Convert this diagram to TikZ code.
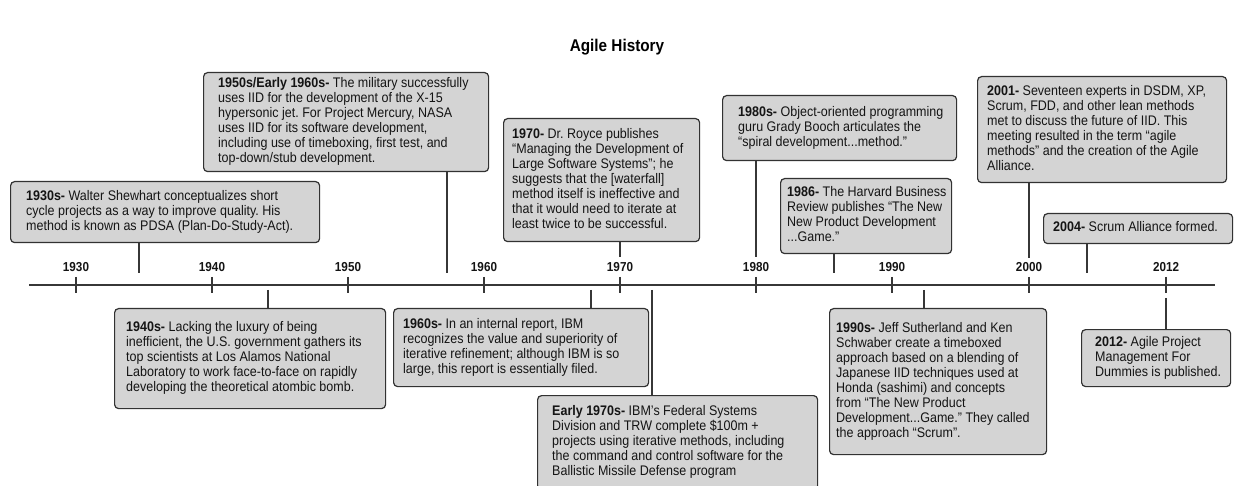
\documentclass[tikz,border=0pt]{standalone}
\usepackage{fontspec}
\setmainfont[FakeStretch=0.9]{Liberation Sans}
\frenchspacing
\definecolor{boxfill}{RGB}{212,212,212}
\definecolor{boxline}{RGB}{50,50,50}
\definecolor{axiscol}{RGB}{55,55,55}
\definecolor{inkcol}{RGB}{20,20,20}
\newcommand\eventbox[7]{%
  \node[evbox, minimum width={#4-#2}, minimum height={#5-#3}] (#1) at (#2,#3) {};
  \node[evtext] (#1t) at ([xshift=#6pt]#1.west) {\begin{tabular}{@{}l@{}}#7\end{tabular}};
}
\begin{document}
\begin{tikzpicture}[x=1pt,y=-1pt,
  evbox/.style={draw=boxline, fill=boxfill, line width=1.2pt, rounded corners=4pt, anchor=north west, inner sep=0pt},
  evtext/.style={anchor=west, inner sep=0pt, text=inkcol, font=\fontsize{13.9}{15}\selectfont},
  conn/.style={draw=axiscol, line width=1.4pt},
  yearlbl/.style={font=\bfseries\fontsize{13}{15}\selectfont, text=inkcol, inner sep=0pt},
  titlestyle/.style={font=\bfseries\fontsize{17}{20}\selectfont, text=black, inner sep=0pt}]
\useasboundingbox (0,0) rectangle (1234,486);
\clip (0,0) rectangle (1234,486);

\node[titlestyle] (ttl) at (617,47) {Agile History};

% axis
\coordinate (axL) at (29,285);
\coordinate (axR) at (1215,285);
\draw[conn] (axL) -- (axR);
\foreach \x/\yr in {76/1930,212/1940,348/1950,484/1960,620/1970,756/1980,892/1990,1029/2000,1166/2012}{
  \node[yearlbl] (y\yr) at (\x,267) {\yr};
  \draw[conn] (\x,277) -- (\x,293);
}

% boxes above
\eventbox{b1930}{10}{181}{319}{242}{16}{\textbf{1930s-} Walter Shewhart conceptualizes short\\cycle projects as a way to improve quality. His\\method is known as PDSA (Plan-Do-Study-Act).}
\eventbox{b1950}{203}{72}{488}{171}{15}{\textbf{1950s/Early 1960s-} The military successfully\\uses IID for the development of the X-15\\hypersonic jet. For Project Mercury, NASA\\uses IID for its software development,\\including use of timeboxing, first test, and\\top-down/stub development.}
\eventbox{b1970}{503}{118}{699}{241}{9}{\textbf{1970-} Dr. Royce publishes\\“Managing the Development of\\Large Software Systems”; he\\suggests that the [waterfall]\\method itself is ineffective and\\that it would need to iterate at\\least twice to be successful.}
\eventbox{b1980}{722}{95}{956}{160}{16}{\textbf{1980s-} Object-oriented programming\\guru Grady Booch articulates the\\“spiral development...method.”}
\eventbox{b1986}{780}{178}{951}{253}{7}{\textbf{1986-} The Harvard Business\\Review publishes “The New\\New Product Development\\...Game.”}
\eventbox{b2001}{977}{76}{1226}{182}{10}{\textbf{2001-} Seventeen experts in DSDM, XP,\\Scrum, FDD, and other lean methods\\met to discuss the future of IID. This\\meeting resulted in the term “agile\\methods” and the creation of the Agile\\Alliance.}
\eventbox{b2004}{1043}{213}{1232}{243}{10}{\textbf{2004-} Scrum Alliance formed.}

% boxes below
\eventbox{b1940}{114}{308}{385}{408}{12}{\textbf{1940s-} Lacking the luxury of being\\inefficient, the U.S. government gathers its\\top scientists at Los Alamos National\\Laboratory to work face-to-face on rapidly\\developing the theoretical atombic bomb.}
\eventbox{b1960}{393}{308}{648}{386}{10}{\textbf{1960s-} In an internal report, IBM\\recognizes the value and superiority of\\iterative refinement; although IBM is so\\large, this report is essentially filed.}
\eventbox{b1970e}{537}{395}{817}{489}{15}{\textbf{Early 1970s-} IBM’s Federal Systems\\Division and TRW complete \$100m +\\projects using iterative methods, including\\the command and control software for the\\Ballistic Missile Defense program}
\eventbox{b1990}{829}{308}{1046}{454}{7}{\textbf{1990s-} Jeff Sutherland and Ken\\Schwaber create a timeboxed\\approach based on a blending of\\Japanese IID techniques used at\\Honda (sashimi) and concepts\\from “The New Product\\Development...Game.” They called\\the approach “Scrum”.}
\eventbox{b2012}{1081}{329}{1230}{386}{14}{\textbf{2012-} Agile Project\\Management For\\Dummies is published.}

% connectors above the axis
\coordinate (c1930) at (139,273);
\coordinate (c1950) at (447,273);
\coordinate (c1970) at (620,257);
\coordinate (c1980) at (756,257);
\coordinate (c1986) at (834,273);
\coordinate (c2001) at (1029,258);
\coordinate (c2004) at (1087,273);
\draw[conn] (b1930.south -| c1930) -- (c1930);
\draw[conn] (b1950.south -| c1950) -- (c1950);
\draw[conn] (b1970.south -| c1970) -- (c1970);
\draw[conn] (b1980.south -| c1980) -- (c1980);
\draw[conn] (b1986.south -| c1986) -- (c1986);
\draw[conn] (b2001.south -| c2001) -- (c2001);
\draw[conn] (b2004.south -| c2004) -- (c2004);

% connectors below the axis
\coordinate (c1940) at (268,290);
\coordinate (c1960) at (591,290);
\coordinate (c1970e) at (652,290);
\coordinate (c1990) at (924,290);
\coordinate (c2012) at (1166,298);
\draw[conn] (c1940) -- (b1940.north -| c1940);
\draw[conn] (c1960) -- (b1960.north -| c1960);
\draw[conn] (c1970e) -- (b1970e.north -| c1970e);
\draw[conn] (c1990) -- (b1990.north -| c1990);
\draw[conn] (c2012) -- (b2012.north -| c2012);
\end{tikzpicture}
\end{document}
